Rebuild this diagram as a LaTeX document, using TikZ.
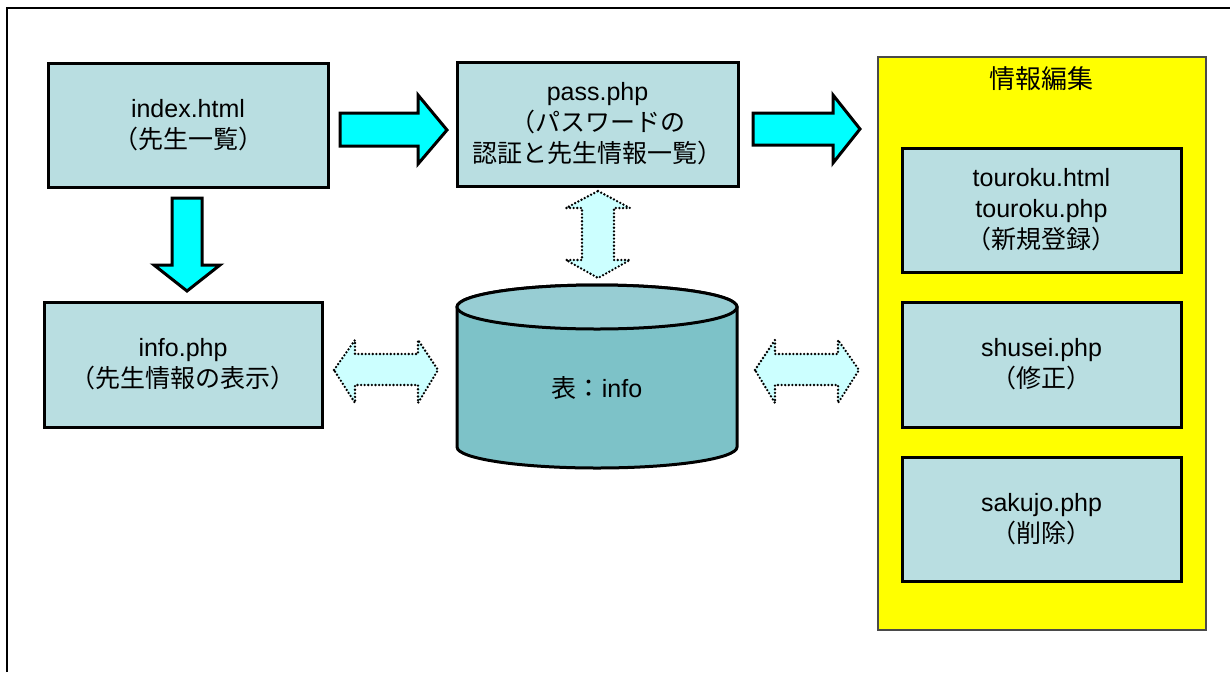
\documentclass[tikz,border=0pt]{standalone}
\usepackage{fontspec}
\setmainfont{Liberation Sans}
\newfontfamily\jp{Noto Sans CJK JP}
\definecolor{boxfill}{HTML}{B9DEE1}
\definecolor{dbbody}{HTML}{7DC2C8}
\definecolor{dbtop}{HTML}{97CDD3}
\definecolor{blockcyan}{HTML}{00FFFF}
\definecolor{softcyan}{HTML}{CCFFFF}
\definecolor{panelyellow}{HTML}{FFFF00}
\definecolor{paneledge}{HTML}{4A4A4A}
\tikzset{
  pagebox/.style={draw=black, line width=3, fill=boxfill, align=center,
    minimum width=280pt, minimum height=124pt, inner sep=0pt,
    font=\fontsize{25}{31}\selectfont},
  blockarrow/.style={draw=black, line width=3, fill=blockcyan, line join=miter},
  dbarrow/.style={draw=black, line width=2.6, fill=softcyan,
    dash pattern=on 0pt off 3.6pt, line cap=round, line join=round},
  label/.style={font=\fontsize{25}{31}\selectfont, inner sep=0pt}
}
\begin{document}
\begin{tikzpicture}[x=1pt, y=-1pt]
\useasboundingbox (0,0) rectangle (1230,672);
% outer frame (top and left edges)
\draw[line width=2] (7,672) -- (7,8) -- (1230,8);

% editing panel
\node[draw=paneledge, line width=2, fill=panelyellow, minimum width=328pt,
  minimum height=573pt, inner sep=0pt] (panel) at (1042,343.5) {};
\node[label, font=\fontsize{26}{31}\selectfont] (paneltitle) at (1041,79) {\jp 情報編集};

% page boxes
\node[pagebox] (index) at (188,125) {index.html\\{\jp （先生一覧）}};
\node[pagebox, minimum width=281pt] (pass) at (597.5,124)
  {pass.php\\{\jp （パスワードの}\\{\jp 認証と先生情報一覧）}};
\node[pagebox, minimum width=278pt, minimum height=125pt] (info) at (183,364.5)
  {info.php\\{\jp （先生情報の表示）}};
\node[pagebox, minimum width=279pt] (touroku) at (1041.5,210)
  {touroku.html\\touroku.php\\{\jp （新規登録）}};
\node[pagebox, minimum width=279pt, minimum height=125pt] (shusei) at (1041.5,364.5)
  {shusei.php\\{\jp （修正）}};
\node[pagebox, minimum width=279pt] (sakujo) at (1041.5,519)
  {sakujo.php\\{\jp （削除）}};

% database cylinder (y axis points down, so arcs through 90 bulge downwards)
\draw[line width=3, fill=dbbody] (457,307) -- (457,447)
  arc[start angle=180, end angle=0, x radius=140, y radius=21]
  -- (737,307) arc[start angle=0, end angle=-180, x radius=140, y radius=22] -- cycle;
\draw[line width=3, fill=dbtop] (597,307) ellipse[x radius=140, y radius=22];
\node[label] (db) at (597,388) {{\jp 表：}info};

% block arrows
\draw[blockarrow] (340,113) -- (418,113) -- (418,95) -- (447,130)
  -- (418,164) -- (418,146) -- (340,146) -- cycle;
\draw[blockarrow] (753,113) -- (833,113) -- (833,95) -- (860,129)
  -- (833,163) -- (833,145) -- (753,145) -- cycle;
\draw[blockarrow] (172,198) -- (202,198) -- (202,265) -- (220,265)
  -- (187,291) -- (154,265) -- (172,265) -- cycle;

% double arrows to the database
\draw[dbarrow] (598,191) -- (630,208) -- (614,208) -- (614,260) -- (630,260)
  -- (598,278) -- (566,260) -- (582,260) -- (582,208) -- (566,208) -- cycle;
\draw[dbarrow] (334,370) -- (355,340) -- (355,354) -- (418,354) -- (418,340)
  -- (438,370) -- (418,403) -- (418,385) -- (355,385) -- (355,403) -- cycle;
\draw[dbarrow] (755,370) -- (775,340) -- (775,354) -- (838,354) -- (838,340)
  -- (859,370) -- (838,403) -- (838,385) -- (775,385) -- (775,403) -- cycle;
\end{tikzpicture}
\end{document}
